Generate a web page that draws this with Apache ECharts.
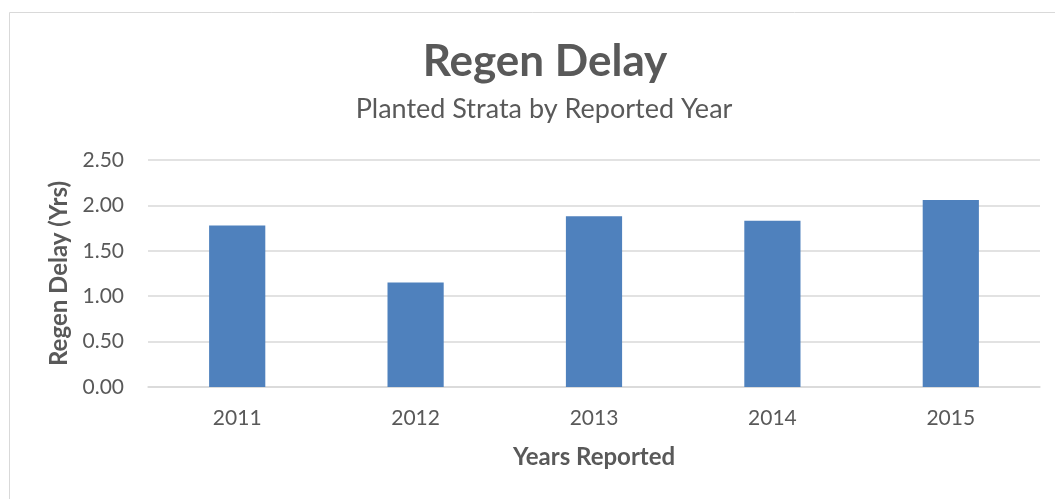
<!DOCTYPE html>
<html>
<head>
<meta charset="utf-8">
<script src="https://cdn.jsdelivr.net/npm/echarts@6/dist/echarts.min.js"></script>
<style>html,body{margin:0;padding:0;background:#fff;}#c{width:1055px;height:499px;}</style>
</head>
<body>
<div id="c"></div>
<script>
const categories = ['2011', '2012', '2013', '2014', '2015'];
const regenDelay = [1.78, 1.15, 1.88, 1.83, 2.06];
const yTicks = { min: 0, max: 2.5, interval: 0.5 };

const chart = echarts.init(document.getElementById('c'), null, { renderer: 'canvas' });
const FONT = 'Lato';
const TXT = '#595959';
chart.setOption({
  animation: false,
  backgroundColor: '#ffffff',
  graphic: [{
    type: 'rect', shape: { x: 9.5, y: 12.5, width: 1100, height: 600 },
    style: { fill: 'none', stroke: '#d9d9d9', lineWidth: 1 }, silent: true, z: -1
  }],
  title: [
    { text: 'Regen Delay', left: 540, textAlign: 'center', top: 35, textStyle: { fontFamily: FONT, fontWeight: 'bold', fontSize: 44, color: TXT } },
    { text: 'Planted Strata by Reported Year', left: 539, textAlign: 'center', top: 91, textStyle: { fontFamily: FONT, fontWeight: 'normal', fontSize: 27, color: TXT } }
  ],
  grid: { left: 148, right: 15, top: 160, bottom: 112, containLabel: false },
  xAxis: {
    type: 'category', data: categories,
    name: 'Years Reported', nameLocation: 'middle', nameGap: 58,
    nameTextStyle: { fontFamily: FONT, fontWeight: 'bold', fontSize: 24, color: TXT },
    axisLine: { show: true, lineStyle: { color: '#d9d9d9', width: 1.5 } },
    axisTick: { show: false },
    axisLabel: { fontFamily: FONT, fontSize: 21, color: TXT, margin: 21 }
  },
  yAxis: {
    type: 'value', min: yTicks.min, max: yTicks.max, interval: yTicks.interval,
    name: 'Regen Delay (Yrs)', nameLocation: 'middle', nameGap: 76, nameRotate: 90,
    nameTextStyle: { fontFamily: FONT, fontWeight: 'bold', fontSize: 24, color: TXT },
    axisLine: { show: false }, axisTick: { show: false },
    axisLabel: { fontFamily: FONT, fontSize: 21, color: TXT, margin: 24, formatter: v => v.toFixed(2) },
    splitLine: { lineStyle: { color: '#d9d9d9', width: 1.5 } }
  },
  series: [{
    type: 'bar', data: regenDelay, barWidth: '31.5%',
    itemStyle: { color: '#4f81bd' }
  }]
});
</script>
</body>
</html>
